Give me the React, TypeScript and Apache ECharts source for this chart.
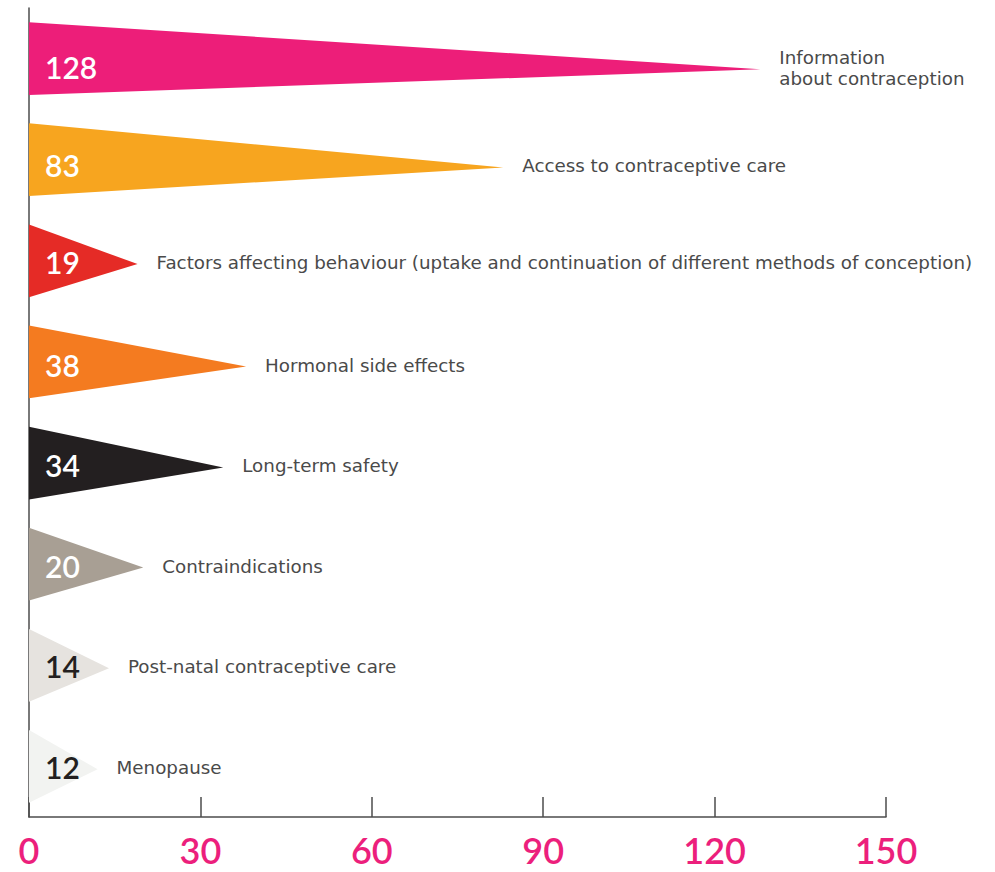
import React, { useEffect, useRef } from "react";
import * as echarts from "echarts";

const categories = [
  "Information\nabout contraception",
  "Access to contraceptive care",
  "Factors affecting behaviour (uptake and continuation of different methods of conception)",
  "Hormonal side effects",
  "Long-term safety",
  "Contraindications",
  "Post-natal contraceptive care",
  "Menopause",
];
const values = [128, 83, 19, 38, 34, 20, 14, 12];
const xTicks = [0, 30, 60, 90, 120, 150];

const palette = ["#ED1E79", "#F7A51F", "#E52B26", "#F47B20", "#231F20", "#A89F94", "#E6E3DF", "#F2F3F1"];
const valueLabelColors = ["#fff", "#fff", "#fff", "#fff", "#fff", "#fff", "#231F20", "#231F20"];

export default function App() {
  const ref = useRef<HTMLDivElement>(null);
  useEffect(() => {
    if (!ref.current) return;
    const chart = echarts.init(ref.current, null, { renderer: "svg" });
    const option: any = {
      animation: false,
      grid: { left: 29, right: 109, top: 8, bottom: 55, containLabel: false },
      xAxis: {
        type: "value",
        min: xTicks[0],
        max: xTicks[xTicks.length - 1],
        interval: 30,
        splitLine: { show: false },
        axisLine: { show: true, lineStyle: { color: "#4d4d4d", width: 1.5 } },
        axisTick: { show: true, inside: true, length: 20, lineStyle: { color: "#4d4d4d", width: 1.5 } },
        axisLabel: {
          color: "#EC1F7C",
          fontSize: 36,
          fontWeight: 600,
          fontFamily: "Lato",
          margin: 15,
        },
      },
      yAxis: {
        type: "category",
        data: categories,
        inverse: true,
        axisLine: { show: true, lineStyle: { color: "#4d4d4d", width: 1.5 } },
        axisTick: { show: false },
        axisLabel: { show: false },
        splitLine: { show: false },
      },
      series: [
        {
          type: "custom",
          data: values.map((v, i) => [v, i]),
          encode: { x: 0, y: 1 },
          z: 3,
          renderItem: (params: any, api: any) => {
            const v = api.value(0);
            const idx = api.value(1);
            const base = api.coord([0, idx]);
            const tip = api.coord([v, idx]);
            const band = api.size([0, 1])[1];
            const h = band * 0.72;
            const len = tip[0] - base[0];
            const ty = base[1] + 2 + 0.012 * len;
            return {
              type: "group",
              children: [
                {
                  type: "polygon",
                  shape: {
                    points: [
                      [base[0], base[1] - h / 2],
                      [tip[0], ty],
                      [base[0], base[1] + h / 2],
                    ],
                  },
                  style: { fill: palette[idx] },
                },
                {
                  type: "text",
                  x: base[0] + 16,
                  y: ty - 2,
                  style: {
                    text: String(v),
                    fill: valueLabelColors[idx],
                    fontSize: 30,
                    fontWeight: 600,
                    fontFamily: "Lato",
                    align: "left",
                    verticalAlign: "middle",
                  },
                },
                {
                  type: "text",
                  x: tip[0] + 19,
                  y: ty - 1.5,
                  style: {
                    text: categories[idx],
                    fill: "#4a4a4a",
                    fontSize: 18.3,
                    fontFamily: "DejaVu Sans",
                    lineHeight: 21,
                    align: "left",
                    verticalAlign: "middle",
                  },
                },
              ],
            };
          },
        },
      ],
    };
    chart.setOption(option);
    return () => chart.dispose();
  }, []);
  return (
    <div
      ref={ref}
      style={{ position: "fixed", left: 0, top: 0, width: 995, height: 872, background: "#fff" }}
    />
  );
}
